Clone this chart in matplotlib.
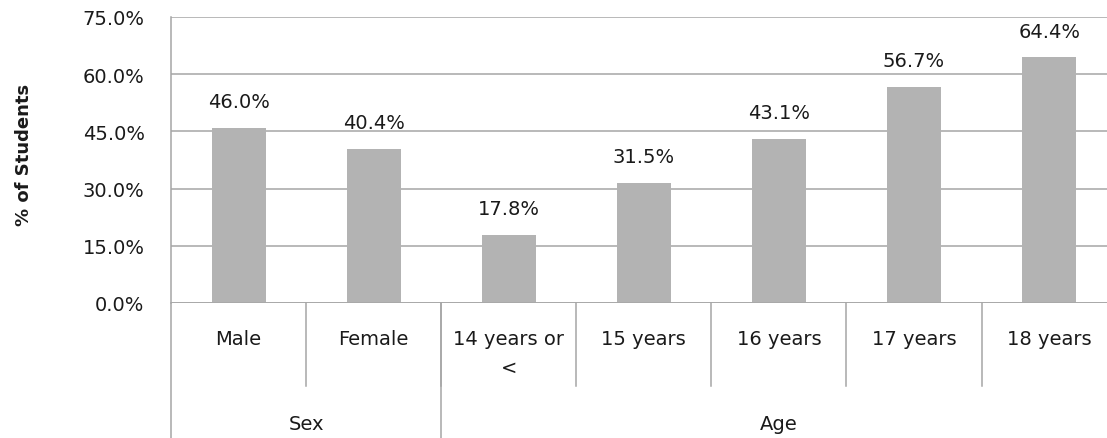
import matplotlib.pyplot as plt
import numpy as np

# data
categories = ['Male', 'Female', '14 years or\n<', '15 years', '16 years', '17 years', '18 years']
values = [46.0, 40.4, 17.8, 31.5, 43.1, 56.7, 64.4]
groups = ['Sex', 'Age']
group_sizes = [2, 5]
y_ticks = [0, 15, 30, 45, 60, 75]

plt.rcParams['font.family'] = ['DejaVu Sans']

GRID = '#A6A6A6'
BAR = '#B3B3B3'
TXT = '#1a1a1a'
FS = 14

fig = plt.figure(figsize=(11.07, 4.39), dpi=100)
# axes right edge runs a little past the image, like the reference crop
ax = fig.add_axes([171 / 1107, 1 - 304 / 439, (7 * 135.1) / 1107, 286 / 439])

x = np.arange(len(categories))
ax.bar(x, values, width=0.40, color=BAR, zorder=3)

for xi, v in zip(x, values):
    ax.annotate(f'{v:.1f}%', (xi, v), xytext=(0, 12), textcoords='offset points',
                ha='center', va='bottom', fontsize=FS, color=TXT)

ax.set_xlim(-0.5, len(categories) - 0.5)
ax.set_ylim(0, 75)
ax.set_yticks(y_ticks)
ax.set_yticklabels([f'{t:.1f}%' for t in y_ticks], fontsize=FS, color=TXT)
ax.tick_params(axis='y', length=0, pad=19)
ax.set_xticks([])
ax.yaxis.grid(True, color=GRID, linewidth=1.1, zorder=0)
ax.set_axisbelow(True)

for side in ['top', 'right', 'bottom']:
    ax.spines[side].set_visible(False)
ax.spines['left'].set_color(GRID)
ax.spines['left'].set_linewidth(1.1)
ax.axhline(0, color=GRID, linewidth=1.1, zorder=4)

ax.text(-0.155, 0.52, '% of Students', transform=ax.transAxes, rotation=90,
        ha='center', va='center', fontsize=13, fontweight='bold', color=TXT)

trans = ax.get_xaxis_transform()
row1_bottom = -(387 - 304) / 286
row2_bottom = -(445 - 304) / 286

# category labels and separators
for i, lab in enumerate(categories):
    ax.text(i, -(330 - 304) / 286, lab, transform=trans, ha='center', va='top',
            fontsize=FS, color=TXT, linespacing=1.65)
for i in range(1, len(categories)):
    ax.plot([i - 0.5, i - 0.5], [0, row1_bottom], transform=trans,
            color=GRID, linewidth=1.1, clip_on=False)

# group row
start = 0
edges = [-0.5]
for g, n in zip(groups, group_sizes):
    mid = start + (n - 1) / 2
    ax.text(mid, -(425 - 304) / 286, g, transform=trans, ha='center', va='center',
            fontsize=FS, color=TXT)
    start += n
    edges.append(start - 0.5)
for e in edges:
    ax.plot([e, e], [0, row2_bottom], transform=trans,
            color=GRID, linewidth=1.1, clip_on=False)

fig.savefig('out.png', dpi=100)
